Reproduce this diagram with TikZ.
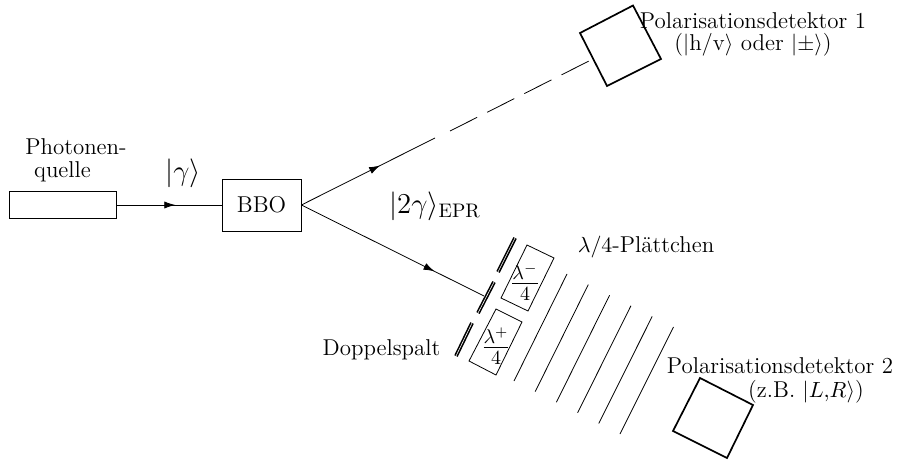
\documentclass[tikz,border=0pt]{standalone}
\usepackage{amsmath}
\usetikzlibrary{arrows.meta,decorations.markings}
\tikzset{
 x=0.5pt,y=-0.5pt,
 box/.style={draw,line width=0.4pt},
 det/.style={draw,line width=0.85pt,line join=miter},
 beam/.style={line width=0.4pt},
 slit/.style={line width=0.8pt,double,double distance=0.3pt},
 wave/.style={line width=0.4pt},
 lbl/.style={inner sep=0pt,font=\fontsize{11.45}{13}\selectfont,align=center},
 biglbl/.style={inner sep=0pt,font=\fontsize{14}{17}\selectfont},
 plate/.style={inner sep=0pt,font=\fontsize{14}{16}\selectfont},
 mid/.style={postaction={decorate},decoration={markings,mark=at position #1 with {\arrow{Latex[length=5.5pt,width=3.6pt]}}}}
}
\begin{document}
\begin{tikzpicture}
\useasboundingbox (0,0) rectangle (897,460);
% source and crystal
\node[box,minimum width=53.25pt,minimum height=13.25pt,inner sep=0pt] (src) at (62.75,205) {};
\node[box,lbl,minimum width=39.5pt,minimum height=26pt] (bbo) at (261.5,205) {BBO};
\coordinate (split) at (bbo.east);
\draw[beam,mid=0.56] (src.east) -- (bbo.west);
% upper beam
\coordinate (ua) at (435,138);
\coordinate (ub) at (450,131);
\coordinate (ud) at (589,61);
\draw[beam,mid=0.59] (split) -- (ua);
\draw[beam,dash pattern=on 15.2pt off 5.6pt] (ub) -- (ud);
% lower beam
\coordinate (lo) at (484,296);
\draw[beam,mid=0.73] (split) -- (lo);
% detectors
\draw[det] (580,33) -- (633,5.5) -- (661,59) -- (607,86) -- cycle;
\draw[det] (700,378) -- (753,405) -- (727,458) -- (673,431) -- cycle;
% slits
\draw[slit] (515,238) -- (498,272);
\draw[slit] (494,282) -- (478,313);
\draw[slit] (472,323) -- (456,356);
% plates
\draw[box] (527,245) -- (554,258) -- (528,311) -- (501,298) -- cycle;
\draw[box] (496,309) -- (522,322) -- (496,375) -- (469,361) -- cycle;
\node[plate] (pm) at (525,282) {$\frac{\lambda^-}{4}$};
\node[plate] (pp) at (496,346) {$\frac{\lambda^+}{4}$};
% wavefronts
\foreach \i in {0,...,5} {
  \draw[wave] (567+21.3*\i,274+10.6*\i) -- (514+21.2*\i,381+10.6*\i);
}
% labels
\node[lbl] (l1) at (76,147) {Photonen-};
\node[lbl] (l2) at (62.5,172) {quelle};
\node[biglbl] (l3) at (183,173) {$|\gamma\rangle$};
\node[biglbl] (l4) at (435,206) {$|2\gamma\rangle_{\text{EPR}}$};
\node[lbl] (l5) at (646,247) {$\lambda/4$-Plättchen};
\node[lbl] (l6) at (381.5,350) {Doppelspalt};
\node[lbl] (l7) at (753,21) {Polarisationsdetektor 1};
\node[lbl] (l8) at (753,45) {($|$h/v$\rangle$ oder $|{\pm}\rangle$)};
\node[lbl] (l9) at (780,366) {Polarisationsdetektor 2};
\node[lbl] (l10) at (806,392) {(z.B. $|L{,}R\rangle$)};
\end{tikzpicture}
\end{document}
